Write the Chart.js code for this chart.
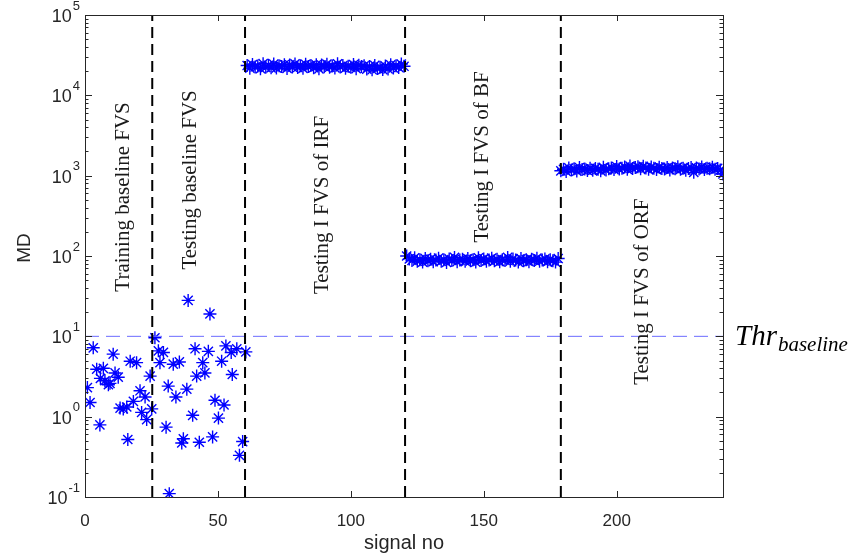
<!DOCTYPE html>
<html lang="en">
<head>
    <meta charset="UTF-8">
    <title>MD per signal</title>
    <script src="https://cdn.jsdelivr.net/npm/chart.js"></script>
    <style>
        body { margin: 0; background: #fff; }
        #chart { display: block; }
    </style>
</head>
<body>
    <canvas id="chart" width="853" height="555"></canvas>

    <script>
        // values
        const trainX = [0.9, 1.9, 3.1, 4.4, 5.6, 5.8, 6.9, 7.5, 8.8, 9.4, 10.6, 11.3, 12.5, 13.2, 14.4, 15.7, 16.1, 17.0, 18.2, 19.4, 20.7, 21.3, 22.6, 23.2, 24.5, 25.1];
        const trainY = [2.3, 1.5, 7.2, 3.9, 0.79, 3.0, 4.0, 2.8, 2.5, 2.6, 6.0, 3.5, 3.1, 1.28, 1.25, 1.32, 0.52, 4.9, 1.55, 4.7, 2.1, 1.13, 1.76, 0.92, 3.2, 1.25];

        const testX = [26.3, 27.6, 28.2, 29.5, 30.5, 31.3, 31.7, 33.2, 34.2, 35.5, 36.4, 37.0, 38.3, 38.8, 40.5, 41.4, 42.0, 43.0, 44.3, 45.1, 46.4, 47.0, 48.0, 48.9, 50.2, 51.4, 52.3, 53.0, 55.0, 55.4, 57.1, 58.1, 59.3, 60.5];
        const testY = [9.6, 6.6, 4.7, 6.3, 0.74, 2.4, 0.11, 4.5, 1.76, 4.8, 0.47, 0.53, 2.2, 28, 1.04, 7.0, 3.2, 0.48, 4.7, 3.5, 6.5, 19, 0.56, 1.6, 0.96, 4.9, 1.4, 7.6, 6.3, 3.35, 7.0, 0.33, 0.49, 6.4];

        // signals 61..120
        const irfStart = 61;
        const irfY = [23500, 21800, 24200, 22600, 23100, 21500, 24800, 22300, 23700, 22000,
                      24500, 21900, 23300, 22800, 24100, 21600, 23900, 22500, 24600, 22200,
                      23400, 21700, 24300, 22900, 23600, 22100, 24000, 21400, 23800, 22700,
                      24400, 22400, 23200, 21900, 24700, 22600, 23500, 21800, 23000, 22300,
                      24200, 21500, 23700, 22800, 23300, 21200, 22900, 20800, 23600, 21600,
                      22400, 20900, 23100, 21300, 24000, 21900, 23400, 22200, 24500, 23000];

        // signals 121..178
        const bfStart = 121;
        const bfY = [100, 92, 88, 95, 86, 90, 84, 93, 87, 91,
                     85, 89, 94, 86, 90, 83, 92, 88, 96, 85,
                     89, 91, 86, 93, 87, 90, 84, 95, 88, 92,
                     86, 89, 94, 87, 91, 85, 90, 88, 96, 86,
                     92, 89, 84, 93, 87, 90, 85, 91, 88, 94,
                     86, 89, 92, 85, 90, 87, 84, 93];

        // signals 179..240
        const orfStart = 179;
        const orfY = [1150, 1200, 1130, 1250, 1180, 1220, 1140, 1260, 1190, 1210,
                      1160, 1240, 1170, 1230, 1200, 1150, 1270, 1180, 1220, 1250,
                      1190, 1300, 1210, 1240, 1280, 1200, 1320, 1230, 1260, 1290,
                      1220, 1310, 1250, 1200, 1280, 1240, 1190, 1270, 1230, 1210,
                      1260, 1180, 1250, 1220, 1290, 1200, 1240, 1170, 1230, 1260,
                      1100, 1250, 1210, 1280, 1190, 1240, 1220, 1270, 1200, 1230,
                      1180, 1050];

        const thrBaseline = 10;
        const boundaries = [25.3, 60.2, 120.4, 179];
        const xTicks = [0, 50, 100, 150, 200];
        const yDecades = [-1, 0, 1, 2, 3, 4, 5];

        const sectionLabels = [
            { text: "Training baseline FVS", x: 14.3, y: 543 },
            { text: "Testing baseline FVS", x: 39.5, y: 885 },
            { text: "Testing I FVS of IRF", x: 89.2, y: 432 },
            { text: "Testing I FVS of BF", x: 149.4, y: 1710 },
            { text: "Testing I FVS of ORF", x: 209.6, y: 36 }
        ];

        const ink = "#262626";

        const points = [];
        trainX.forEach((x, i) => points.push({ x: x, y: trainY[i] }));
        testX.forEach((x, i) => points.push({ x: x, y: testY[i] }));
        irfY.forEach((y, i) => points.push({ x: irfStart + i, y: y }));
        bfY.forEach((y, i) => points.push({ x: bfStart + i, y: y }));
        orfY.forEach((y, i) => points.push({ x: orfStart + i, y: y }));

        const datasets = [{
            type: "scatter",
            data: points,
            pointStyle: "star",
            pointRadius: 6.5,
            borderColor: "#0000ff",
            backgroundColor: "#0000ff",
            borderWidth: 1.4,
            order: 2
        }, {
            type: "line",
            data: [{ x: 0, y: thrBaseline }, { x: 240, y: thrBaseline }],
            borderColor: "#6b6bff",
            borderWidth: 1,
            borderDash: [14, 7],
            pointRadius: 0,
            order: 1
        }];

        boundaries.forEach(b => {
            datasets.push({
                type: "line",
                data: [{ x: b, y: 0.1 }, { x: b, y: 1e5 }],
                borderColor: "#000",
                borderWidth: 2,
                borderDash: [11, 6],
                pointRadius: 0,
                order: 0
            });
        });

        // box, inward ticks, power-of-ten labels and the texts
        const decorations = {
            id: "decorations",
            afterDraw(chart) {
                const ctx = chart.ctx;
                const area = chart.chartArea;
                const xs = chart.scales.x;
                const ys = chart.scales.y;

                ctx.save();
                ctx.strokeStyle = ink;
                ctx.lineWidth = 1;
                ctx.strokeRect(area.left + 0.5, area.top + 0.5, area.right - area.left, area.bottom - area.top);

                ctx.beginPath();
                xTicks.forEach(v => {
                    const px = Math.round(xs.getPixelForValue(v)) + 0.5;
                    ctx.moveTo(px, area.bottom); ctx.lineTo(px, area.bottom - 6);
                    ctx.moveTo(px, area.top); ctx.lineTo(px, area.top + 6);
                });
                yDecades.forEach(e => {
                    for (let m = 1; m <= 9; m++) {
                        const v = m * Math.pow(10, e);
                        if (v > 1e5) break;
                        const py = Math.round(ys.getPixelForValue(v)) + 0.5;
                        const len = m === 1 ? 7 : 3.5;
                        ctx.moveTo(area.left, py); ctx.lineTo(area.left + len, py);
                        ctx.moveTo(area.right, py); ctx.lineTo(area.right - len, py);
                    }
                });
                ctx.stroke();

                // y tick labels 10^n
                ctx.fillStyle = ink;
                ctx.textBaseline = "middle";
                yDecades.forEach(e => {
                    const py = ys.getPixelForValue(Math.pow(10, e));
                    ctx.font = '13px "Liberation Sans"';
                    const expText = String(e);
                    const ew = ctx.measureText(expText).width;
                    ctx.textAlign = "left";
                    ctx.fillText(expText, area.left - 5 - ew, py - 9);
                    ctx.font = '18px "Liberation Sans"';
                    ctx.textAlign = "right";
                    ctx.fillText("10", area.left - 6 - ew, py + 2);
                });

                // axis titles
                ctx.font = '20px "Liberation Sans"';
                ctx.textAlign = "center";
                ctx.fillText("signal no", (area.left + area.right) / 2, 543);
                ctx.font = '19px "Liberation Sans"';
                ctx.save();
                ctx.translate(25, 248);
                ctx.rotate(-Math.PI / 2);
                ctx.fillText("MD", 0, 0);
                ctx.restore();

                // section labels
                ctx.font = '21px "Liberation Serif"';
                ctx.fillStyle = "#1a1a1a";
                sectionLabels.forEach(l => {
                    ctx.save();
                    ctx.translate(xs.getPixelForValue(l.x), ys.getPixelForValue(l.y));
                    ctx.rotate(-Math.PI / 2);
                    ctx.textAlign = "center";
                    ctx.textBaseline = "middle";
                    ctx.fillText(l.text, 0, 0);
                    ctx.restore();
                });

                // threshold label
                const ty = ys.getPixelForValue(thrBaseline);
                ctx.fillStyle = "#000";
                ctx.textAlign = "left";
                ctx.textBaseline = "alphabetic";
                ctx.font = 'italic 29px "Liberation Serif"';
                const x0 = area.right + 12;
                ctx.fillText("Thr", x0, ty + 9);
                const w = ctx.measureText("Thr").width;
                ctx.font = 'italic 21px "Liberation Serif"';
                ctx.fillText("baseline", x0 + w + 1, ty + 15);
                ctx.restore();
            }
        };

        new Chart(document.getElementById("chart"), {
            data: { datasets: datasets },
            options: {
                responsive: false,
                animation: false,
                layout: { padding: { left: 0, right: 130, top: 15, bottom: 0 } },
                plugins: {
                    legend: { display: false },
                    tooltip: { enabled: false }
                },
                scales: {
                    x: {
                        type: "linear",
                        min: 0,
                        max: 240,
                        grid: { display: false, drawTicks: false },
                        border: { display: false },
                        ticks: {
                            stepSize: 50,
                            padding: 14,
                            color: ink,
                            font: { family: "Liberation Sans", size: 17 }
                        },
                        afterBuildTicks: scale => {
                            scale.ticks = scale.ticks.filter(t => xTicks.includes(t.value));
                        },
                        afterFit: scale => { scale.height = 58; }
                    },
                    y: {
                        type: "logarithmic",
                        min: 0.1,
                        max: 1e5,
                        grid: { display: false, drawTicks: false },
                        border: { display: false },
                        ticks: { display: false },
                        afterFit: scale => { scale.width = 85; }
                    }
                }
            },
            plugins: [decorations]
        });
    </script>
</body>
</html>
